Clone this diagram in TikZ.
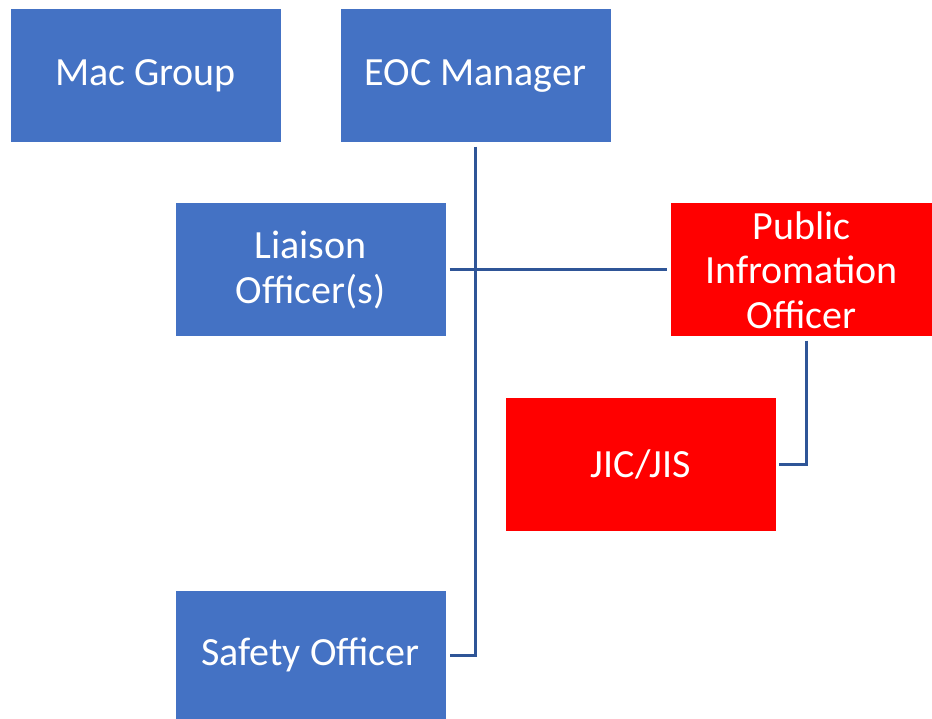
\documentclass[tikz,border=0pt]{standalone}
\usepackage{fontspec}
\setmainfont{Carlito}
\definecolor{boxblue}{HTML}{4472C4}
\definecolor{boxred}{HTML}{FF0000}
\definecolor{linkblue}{HTML}{2F5597}

\begin{document}
\begin{tikzpicture}[x=1pt,y=-1pt,
   unit/.style={fill=boxblue,text=white,inner sep=0pt,align=center,
     minimum width=270pt,minimum height=133pt,font=\fontsize{40}{44.5}\selectfont},
   pio/.style={unit,fill=boxred},
   link/.style={linkblue,line width=3pt}]
  \useasboundingbox (0,0) rectangle (932,719);
  % top row
  \node[unit] (mac) at (145.5,76){Mac Group};
  \node[unit] (eoc) at (475.5,76){EOC Manager};
  % command staff
  \node[unit] (liaison) at (310.5,270){Liaison\\Officer(s)};
  \node[pio,minimum width=261pt] (pub) at (801.5,270){Public\\Infromation\\Officer};
  \node[pio] (jic) at (641,464){JIC/JIS};
  \node[unit,minimum height=128pt] (safety) at (310.5,655){Safety Officer};
  % reporting lines
  \draw[link] ([yshift=-4pt]eoc.south) |- ([xshift=4pt]safety.east);
  \draw[link] ([xshift=4pt]liaison.east) -- ([xshift=-4pt]pub.west);
  \draw[link] ([xshift=4.5pt,yshift=-4pt]pub.south) |- ([xshift=3pt]jic.east);
\end{tikzpicture}
\end{document}
